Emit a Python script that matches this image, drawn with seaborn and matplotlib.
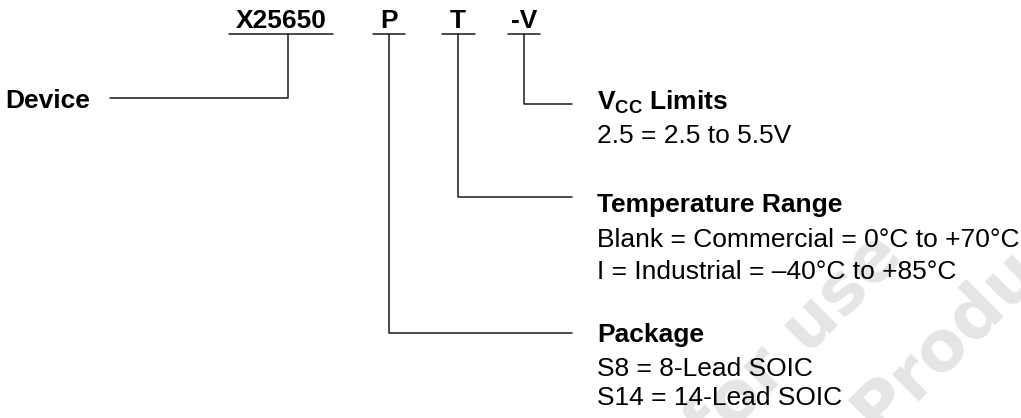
import matplotlib
matplotlib.use('Agg')
import matplotlib.pyplot as plt
import seaborn as sns
import pandas as pd

# ─────────────────────────────────────────────────────────────
# ORDERING INFO CONTENT
# ─────────────────────────────────────────────────────────────
code_parts = ['X25650', 'P', 'T', '-V']
device_label = 'Device'

field_titles = [r'$\mathbf{V_{CC}}$ Limits', 'Temperature Range', 'Package']
field_options = [
    ['2.5 = 2.5 to 5.5V'],
    ['Blank = Commercial = 0\u00b0C to +70\u00b0C',
     'I = Industrial = \u201340\u00b0C to +85\u00b0C'],
    ['S8 = 8-Lead SOIC', 'S14 = 14-Lead SOIC'],
]
watermark = ['for use', 'Product']

# layout (pixel coords, y down)
W, H = 1021, 418
FS = 19
code_x = [281, 389, 458, 524]
code_ul = [(229, 333), (373, 405), (442, 475), (508, 540)]
code_base = 28
title_x = 597
title_base = [110, 212, 342]
line_gap = [[33], [35, 67], [34, 63]]
branch_y = [104, 197, 333]
branch_x = [code_x[3], code_x[2], code_x[1]]
branch_end = 572

sns.set_theme(style='white')
plt.rcParams['font.family'] = ['Liberation Sans', 'DejaVu Sans']
plt.rcParams['mathtext.fontset'] = 'custom'
plt.rcParams['mathtext.bf'] = 'Liberation Sans:bold'
plt.rcParams['mathtext.rm'] = 'Liberation Sans'

fig = plt.figure(figsize=(W / 100, H / 100), dpi=100)
ax = fig.add_axes([0, 0, 1, 1])

# watermark (cut off at the edge, as in the source)
ax.text(905, 258, watermark[0], rotation=45, rotation_mode='anchor',
        ha='right', va='baseline', fontsize=50, fontweight='bold',
        color='#e5e5e5', family='DejaVu Sans', zorder=0)
ax.text(878, 436, watermark[1], rotation=45, rotation_mode='anchor',
        ha='left', va='baseline', fontsize=50, fontweight='bold',
        color='#e5e5e5', family='DejaVu Sans', zorder=0)

# connector segments
segs = []
for i, (x0, x1) in enumerate(code_ul):
    segs.append({'seg': f'ul{i}', 'x': x0, 'y': 34})
    segs.append({'seg': f'ul{i}', 'x': x1, 'y': 34})
segs += [{'seg': 'dev', 'x': 288, 'y': 34},
         {'seg': 'dev', 'x': 288, 'y': 98},
         {'seg': 'dev', 'x': 110, 'y': 98}]
for i, (bx, by) in enumerate(zip(branch_x, branch_y)):
    segs += [{'seg': f'br{i}', 'x': bx, 'y': 34},
             {'seg': f'br{i}', 'x': bx, 'y': by},
             {'seg': f'br{i}', 'x': branch_end, 'y': by}]
df = pd.DataFrame(segs)
sns.lineplot(data=df, x='x', y='y', units='seg', estimator=None, sort=False,
             color='#1a1a1a', linewidth=1.1, ax=ax, legend=False)
ax.set_xlim(0, W)
ax.set_ylim(H, 0)
ax.axis('off')

# code letters
for txt, x in zip(code_parts, code_x):
    ax.text(x, code_base, txt, ha='center', va='baseline',
            fontsize=FS, fontweight='bold', color='black')

ax.text(5, 108, device_label, ha='left', va='baseline',
        fontsize=FS, fontweight='bold', color='black')

for title, opts, base, gaps in zip(field_titles, field_options, title_base, line_gap):
    ax.text(title_x, base, title, ha='left', va='baseline',
            fontsize=FS, fontweight='bold', color='black')
    for o, g in zip(opts, gaps):
        ax.text(title_x, base + g, o, ha='left', va='baseline',
                fontsize=FS, color='black')

fig.savefig('out.png', dpi=100)
